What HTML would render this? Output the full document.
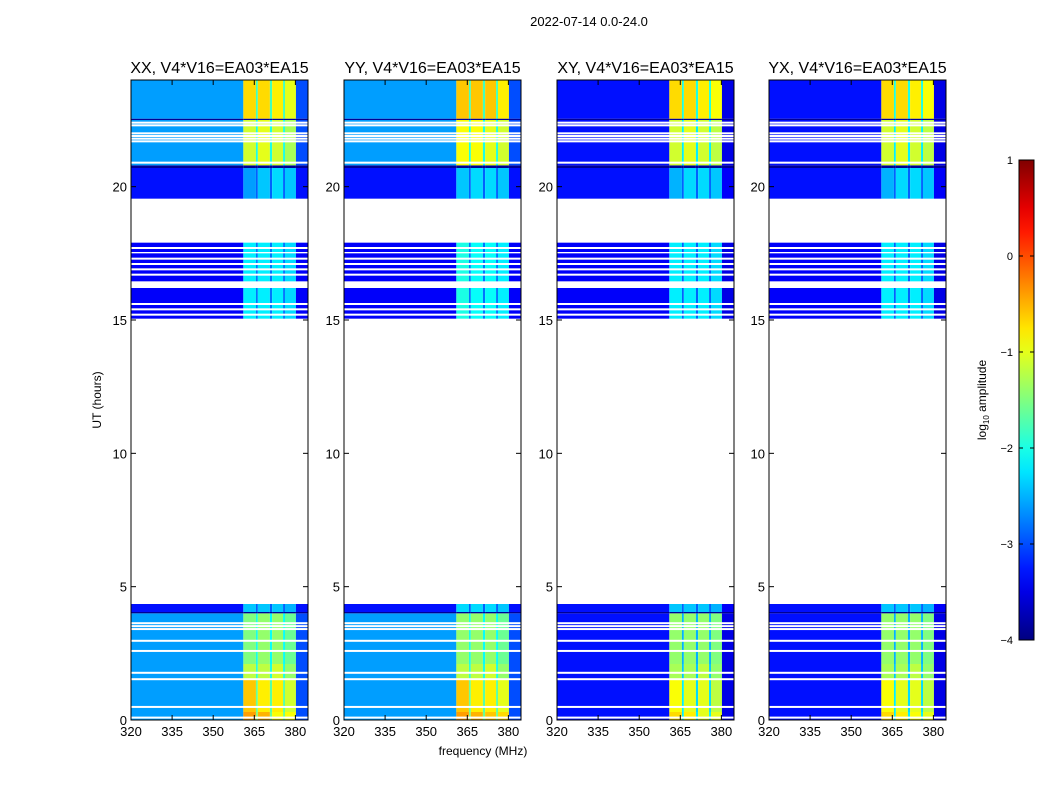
<!DOCTYPE html>
<html><head><meta charset="utf-8">
<style>
html,body{margin:0;padding:0;background:#fff;}
svg{display:block;font-family:"Liberation Sans","DejaVu Sans",sans-serif;}
</style></head>
<body>
<svg id="chart" width="1050" height="800" viewBox="0 0 1050 800" xmlns="http://www.w3.org/2000/svg">
<text x="589" y="26" font-size="13" text-anchor="middle">2022-07-14 0.0-24.0</text>
<text x="483" y="755" font-size="12" text-anchor="middle">frequency (MHz)</text>
<text transform="translate(101,400) rotate(-90)" font-size="12" text-anchor="middle">UT (hours)</text>
<text transform="translate(986,400) rotate(-90)" font-size="12" text-anchor="middle">log<tspan font-size="8" dy="3">10</tspan><tspan dy="-3"> amplitude</tspan></text>
<g id="panels"></g>
<g id="cbar"></g>
</svg>
<script>
// ---- data ----
const panelTitles = ["XX, V4*V16=EA03*EA15","YY, V4*V16=EA03*EA15","XY, V4*V16=EA03*EA15","YX, V4*V16=EA03*EA15"];
const bandEdges = [320, 361, 365.6, 366.3, 370.7, 371.5, 375.5, 376.2, 380.2, 384.6];
// time segments: start hour, end hour, matrix row
const segStart = [0.0, 0.3, 1.5, 2.1, 4.0, 4.05, 15.05, 16.45, 17.55, 19.55, 20.7, 20.8, 22.5, 22.55];
const segEnd   = [0.3, 1.5, 2.1, 4.0, 4.05, 4.35, 16.2, 17.5, 17.9, 20.7, 20.8, 22.5, 22.55, 24.0];
const segRow   = [0, 1, 2, 3, 4, 5, 6, 6, 6, 7, 4, 8, 4, 9];
// value matrices (log10 amplitude), rows x bands
const valsXX = [
 [-2.6,-0.4,-1.5,-0.5,-1.6,-0.9,-1.6,-0.9,-3.0],
 [-2.6,-0.6,-1.6,-0.8,-1.7,-0.8,-1.7,-1.1,-3.0],
 [-2.6,-1.2,-1.9,-1.2,-2.0,-1.1,-2.0,-1.4,-3.0],
 [-2.6,-1.5,-2.0,-1.4,-2.1,-1.4,-2.1,-1.6,-3.0],
 [-3.9,-3.9,-3.9,-3.9,-3.9,-3.9,-3.9,-3.9,-3.9],
 [-3.3,-2.4,-2.9,-2.4,-2.9,-2.4,-2.9,-2.5,-3.3],
 [-3.4,-2.2,-2.8,-2.2,-2.8,-2.2,-2.8,-2.3,-3.4],
 [-3.3,-2.6,-2.9,-2.4,-2.9,-2.3,-2.9,-2.4,-3.3],
 [-2.6,-1.1,-2.0,-1.0,-2.0,-1.1,-2.0,-1.3,-3.0],
 [-2.6,-0.7,-1.8,-0.7,-1.8,-0.8,-1.8,-1.0,-3.0]];
const valsYY = [
 [-2.6,-0.4,-1.5,-0.5,-1.6,-0.6,-1.6,-0.7,-3.0],
 [-2.6,-0.6,-1.6,-0.8,-1.7,-0.8,-1.7,-1.0,-3.0],
 [-2.6,-1.2,-1.9,-1.2,-2.0,-1.1,-2.0,-1.4,-3.0],
 [-2.6,-1.4,-2.0,-1.4,-2.1,-1.4,-2.1,-1.6,-3.0],
 [-3.9,-3.9,-3.9,-3.9,-3.9,-3.9,-3.9,-3.9,-3.9],
 [-3.3,-2.3,-2.9,-2.3,-2.9,-2.3,-2.9,-2.4,-3.3],
 [-3.4,-2.0,-2.8,-2.1,-2.8,-2.1,-2.8,-2.2,-3.4],
 [-3.3,-2.4,-2.9,-2.3,-2.9,-2.3,-2.9,-2.4,-3.3],
 [-2.6,-0.9,-2.0,-0.9,-2.0,-1.0,-2.0,-1.1,-3.0],
 [-2.6,-0.6,-1.8,-0.6,-1.8,-0.6,-1.8,-0.8,-3.0]];
const valsXY = [
 [-3.3,-0.7,-2.2,-0.8,-2.2,-1.0,-2.2,-1.0,-3.5],
 [-3.3,-0.9,-2.2,-1.0,-2.3,-1.0,-2.3,-1.2,-3.5],
 [-3.3,-1.3,-2.4,-1.3,-2.4,-1.2,-2.4,-1.4,-3.5],
 [-3.3,-1.4,-2.5,-1.4,-2.5,-1.4,-2.5,-1.5,-3.5],
 [-3.9,-3.9,-3.9,-3.9,-3.9,-3.9,-3.9,-3.9,-3.9],
 [-3.3,-2.4,-2.9,-2.4,-2.9,-2.4,-2.9,-2.5,-3.4],
 [-3.4,-2.2,-2.9,-2.2,-2.9,-2.2,-2.9,-2.3,-3.5],
 [-3.3,-2.5,-2.9,-2.3,-2.9,-2.3,-2.9,-2.4,-3.4],
 [-3.3,-1.1,-2.2,-1.0,-2.2,-1.1,-2.2,-1.2,-3.5],
 [-3.3,-0.7,-2.0,-0.7,-2.0,-0.8,-2.0,-0.9,-3.5]];
const valsYX = [
 [-3.3,-0.7,-2.2,-0.8,-2.2,-0.9,-2.2,-1.0,-3.5],
 [-3.3,-0.9,-2.2,-1.0,-2.3,-1.0,-2.3,-1.2,-3.5],
 [-3.3,-1.3,-2.4,-1.3,-2.4,-1.2,-2.4,-1.4,-3.5],
 [-3.3,-1.4,-2.5,-1.4,-2.5,-1.4,-2.5,-1.5,-3.5],
 [-3.9,-3.9,-3.9,-3.9,-3.9,-3.9,-3.9,-3.9,-3.9],
 [-3.3,-2.4,-2.9,-2.4,-2.9,-2.4,-2.9,-2.5,-3.4],
 [-3.4,-2.2,-2.9,-2.2,-2.9,-2.2,-2.9,-2.3,-3.5],
 [-3.3,-2.5,-2.9,-2.3,-2.9,-2.3,-2.9,-2.4,-3.4],
 [-3.3,-1.1,-2.2,-1.0,-2.2,-1.1,-2.2,-1.2,-3.5],
 [-3.3,-0.7,-2.0,-0.7,-2.0,-0.8,-2.0,-0.9,-3.5]];
const panelVals = [valsXX, valsYY, valsXY, valsYX];
// hours of flagged (white) integrations
const whiteLines = [0.09, 0.49, 1.53, 1.77, 2.59, 2.97, 3.41, 3.52, 3.63, 15.2, 15.4, 15.6, 16.7, 16.9, 17.1, 17.3, 17.7, 20.9, 21.7, 21.8, 21.9, 22.0, 22.3, 22.4];
const xTicks = [320, 335, 350, 365, 380];
const yTicks = [0, 5, 10, 15, 20];
const cbTicks = [-4, -3, -2, -1, 0, 1];

// ---- layout ----
const NS = "http://www.w3.org/2000/svg";
const panelLeft = [131, 344, 557, 769];
const PW = 177, PT = 80, PB = 720;
const fMin = 320, fMax = 384.6, tMin = 0, tMax = 24;
const vMin = -4, vMax = 1;
function xScale(f, p){ return panelLeft[p] + (f - fMin) / (fMax - fMin) * PW; }
function yScale(h){ return PB - (h - tMin) / (tMax - tMin) * (PB - PT); }
function jet(v){
  let t = Math.max(0, Math.min(1, (v - vMin) / (vMax - vMin)));
  const c = x => Math.round(255 * Math.max(0, Math.min(1, 1.5 - Math.abs(4 * t - x))));
  return `rgb(${c(3)},${c(2)},${c(1)})`;
}
function mk(tag, attrs, parent){
  const e = document.createElementNS(NS, tag);
  for (const k in attrs) e.setAttribute(k, attrs[k]);
  parent.appendChild(e); return e;
}
const root = document.getElementById("panels");
for (let p = 0; p < 4; p++){
  const g = mk("g", {}, root);
  
  
  const vals = panelVals[p];
  for (let s = 0; s < segStart.length; s++){
    for (let b = 0; b < bandEdges.length - 1; b++){
      const x0 = xScale(bandEdges[b], p), x1 = xScale(bandEdges[b+1], p);
      const y0 = yScale(segEnd[s]), y1 = yScale(segStart[s]);
      const r = mk("rect", {x:x0, y:y0, width:x1-x0, height:Math.max(0.8,y1-y0), fill:jet(vals[segRow[s]][b])}, g);
      
      
    }
  }
  for (const h of whiteLines){
    const w = mk("rect", {x:panelLeft[p], y:yScale(h)-1, width:PW, height:2, fill:"#fff"}, g);
    
    
  }
  const frame = mk("rect", {x:panelLeft[p], y:PT, width:PW, height:PB-PT, fill:"none", stroke:"#000", "stroke-width":1}, g);
  
  
  for (const f of xTicks){
    const x = xScale(f, p);
    mk("line", {x1:x, x2:x, y1:PB, y2:PB-5, stroke:"#000"}, g);
    mk("line", {x1:x, x2:x, y1:PT, y2:PT+5, stroke:"#000"}, g);
    const t = mk("text", {x:x, y:PB+16, "font-size":13, "text-anchor":"middle"}, g);
    t.textContent = f;
    
    
  }
  for (const h of yTicks){
    const y = yScale(h);
    mk("line", {x1:panelLeft[p], x2:panelLeft[p]+5, y1:y, y2:y, stroke:"#000"}, g);
    mk("line", {x1:panelLeft[p]+PW, x2:panelLeft[p]+PW-5, y1:y, y2:y, stroke:"#000"}, g);
    const t = mk("text", {x:panelLeft[p]-4, y:y+5, "font-size":13, "text-anchor":"end"}, g);
    t.textContent = h;
    
    
  }
  const tt = mk("text", {x:panelLeft[p]+PW/2, y:PT-7, "font-size":16, "text-anchor":"middle"}, g);
  tt.textContent = panelTitles[p];
  
  
}
// colorbar
const cb = document.getElementById("cbar");


const CX = 1019, CW = 15, CT = 160, CB = 640;
const grad = mk("linearGradient", {id:"jetg", x1:0, y1:1, x2:0, y2:0}, mk("defs", {}, cb));
for (let i = 0; i <= 20; i++){
  mk("stop", {offset:i/20, "stop-color":jet(vMin + (vMax - vMin) * i / 20)}, grad);
}
mk("rect", {x:CX, y:CT, width:CW, height:CB-CT, fill:"url(#jetg)", stroke:"#000"}, cb);
for (const v of cbTicks){
  const y = CB - (v - vMin) / (vMax - vMin) * (CB - CT);
  mk("line", {x1:CX, x2:CX+4, y1:y, y2:y, stroke:"#000"}, cb);
  mk("line", {x1:CX+CW, x2:CX+CW-4, y1:y, y2:y, stroke:"#000"}, cb);
  const t = mk("text", {x:CX-6, y:y+4, "font-size":11, "text-anchor":"end"}, cb);
  t.textContent = v < 0 ? "\u2212" + (-v) : v;
  
  
}
</script>
</body></html>
